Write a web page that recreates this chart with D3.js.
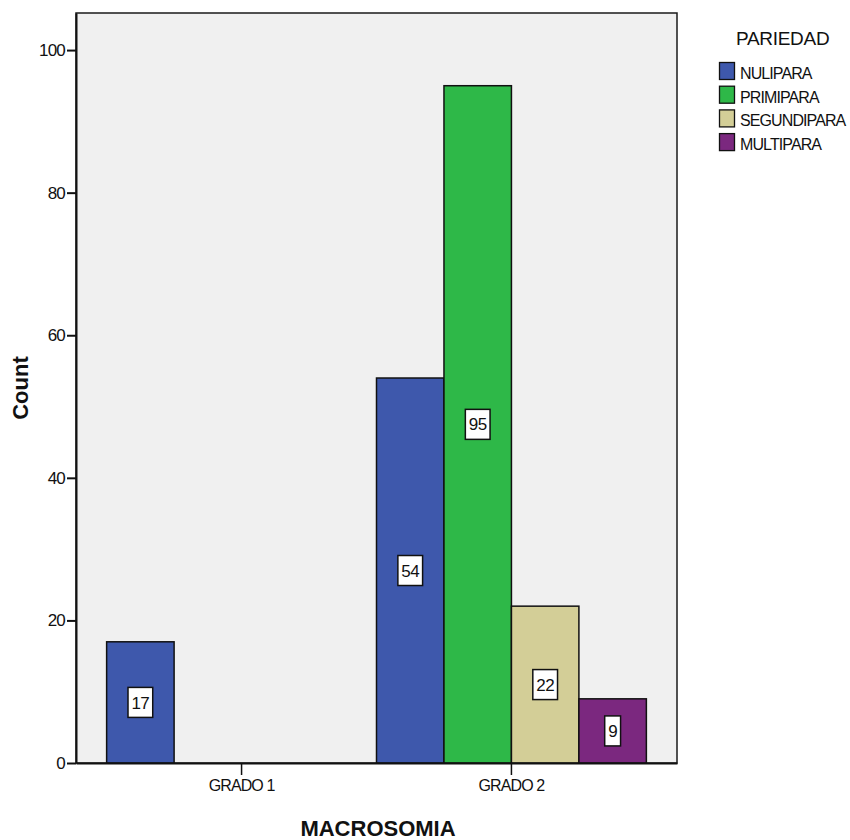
<!DOCTYPE html>
<html>
<head>
<meta charset="utf-8">
<script src="https://cdn.jsdelivr.net/npm/d3@7"></script>
<style>
  html, body { margin: 0; padding: 0; background: #fff; }
  svg { display: block; font-family: Arial, "Liberation Sans", sans-serif; }
</style>
</head>
<body>
<svg id="chart" width="850" height="840"></svg>
<script>
// Categories on the x axis and the parity groups drawn in each
const categories = ["GRADO 1", "GRADO 2"];
const seriesNames = ["NULIPARA", "PRIMIPARA", "SEGUNDIPARA", "MULTIPARA"];
const seriesColors = ["#3E58AC", "#2EB848", "#D3CE97", "#7B287F"];

// Counts per series, one value per category
const nulipara = [17, 54];
const primipara = [0, 95];
const segundipara = [0, 22];
const multipara = [0, 9];

const yTicks = [0, 20, 40, 60, 80, 100];

const seriesValues = [nulipara, primipara, segundipara, multipara];
const rows = [];
categories.forEach((cat, ci) => {
  seriesNames.forEach((s, si) => {
    rows.push({ cat, series: s, color: seriesColors[si], value: seriesValues[si][ci] });
  });
});

const svg = d3.select("#chart");
const plot = { left: 76, right: 677, top: 13, bottom: 763 };

const x = d3.scaleBand()
  .domain(categories)
  .range([plot.left, plot.right])
  .paddingInner(0)
  .paddingOuter(0.1135);

const xInner = d3.scaleBand()
  .domain(seriesNames)
  .range([0, x.bandwidth()])
  .padding(0);

const y = d3.scaleLinear()
  .domain([0, 105.2])
  .range([plot.bottom, plot.top]);

// plot background
svg.append("rect")
  .attr("x", plot.left).attr("y", plot.top)
  .attr("width", plot.right - plot.left)
  .attr("height", plot.bottom - plot.top)
  .attr("fill", "#F0F0F0")
  .attr("stroke", "#1a1a1a")
  .attr("stroke-width", 1.5);

// bars
const bars = rows.filter(d => d.value > 0);
svg.append("g").selectAll("rect")
  .data(bars)
  .join("rect")
  .attr("x", d => x(d.cat) + xInner(d.series))
  .attr("y", d => y(d.value))
  .attr("width", xInner.bandwidth())
  .attr("height", d => y(0) - y(d.value))
  .attr("fill", d => d.color)
  .attr("stroke", "#111")
  .attr("stroke-width", 1.5);

// value labels in white boxes at mid-height
const labels = svg.append("g").selectAll("g")
  .data(bars)
  .join("g")
  .attr("transform", d => `translate(${x(d.cat) + xInner(d.series) + xInner.bandwidth() / 2},${y(d.value / 2)})`);

labels.each(function(d) {
  const g = d3.select(this);
  const t = g.append("text")
    .attr("text-anchor", "middle")
    .attr("dy", "0.36em")
    .attr("font-size", 17)
    .attr("letter-spacing", -0.6)
    .attr("fill", "#111")
    .text(d.value);
  const w = t.node().getComputedTextLength() + 7;
  g.insert("rect", "text")
    .attr("x", -w / 2).attr("y", -15)
    .attr("width", w).attr("height", 30)
    .attr("fill", "#fff")
    .attr("stroke", "#111")
    .attr("stroke-width", 1.5);
});

// y axis
const yAxis = d3.axisLeft(y).tickValues(yTicks).tickSize(9).tickSizeOuter(0).tickPadding(2);
const gy = svg.append("g")
  .attr("transform", `translate(${plot.left},0)`)
  .call(yAxis);
gy.select(".domain").attr("stroke", "#111").attr("stroke-width", 2);
gy.selectAll(".tick line").attr("stroke", "#111").attr("stroke-width", 2);
gy.selectAll(".tick text")
  .attr("font-size", 17)
  .attr("letter-spacing", -0.8)
  .attr("fill", "#111")
  .attr("font-family", "Arial, 'Liberation Sans', sans-serif");

// x axis
const xAxis = d3.axisBottom(x).tickSize(12).tickSizeOuter(0).tickPadding(5);
const gx = svg.append("g")
  .attr("transform", `translate(0,${plot.bottom})`)
  .call(xAxis);
gx.select(".domain").attr("stroke", "#111").attr("stroke-width", 2);
gx.selectAll(".tick line").attr("stroke", "#111").attr("stroke-width", 1.5);
gx.selectAll(".tick text")
  .attr("font-size", 16)
  .attr("letter-spacing", -0.9)
  .attr("fill", "#111")
  .attr("font-family", "Arial, 'Liberation Sans', sans-serif");

// axis titles
svg.append("text")
  .attr("x", 378).attr("y", 836)
  .attr("text-anchor", "middle")
  .attr("font-size", 22)
  .attr("font-weight", "bold")
  .attr("fill", "#111")
  .text("MACROSOMIA");

svg.append("text")
  .attr("transform", "translate(28,388) rotate(-90)")
  .attr("text-anchor", "middle")
  .attr("font-size", 22)
  .attr("font-weight", "bold")
  .attr("fill", "#111")
  .text("Count");

// legend
const legend = svg.append("g").attr("transform", "translate(719,0)");
legend.append("text")
  .attr("x", 17).attr("y", 45)
  .attr("font-size", 19)
  .attr("letter-spacing", -0.3)
  .attr("fill", "#111")
  .text("PARIEDAD");

const items = legend.selectAll("g.item")
  .data(seriesNames)
  .join("g")
  .attr("class", "item")
  .attr("transform", (d, i) => `translate(0,${62 + i * 23.7})`);
items.append("rect")
  .attr("x", 0.5).attr("y", 0.5)
  .attr("width", 15).attr("height", 17)
  .attr("fill", (d, i) => seriesColors[i])
  .attr("stroke", "#111")
  .attr("stroke-width", 1.3);
items.append("text")
  .attr("x", 21).attr("y", 17)
  .attr("font-size", 16)
  .attr("letter-spacing", -0.9)
  .attr("fill", "#111")
  .text(d => d);
</script>
</body>
</html>
